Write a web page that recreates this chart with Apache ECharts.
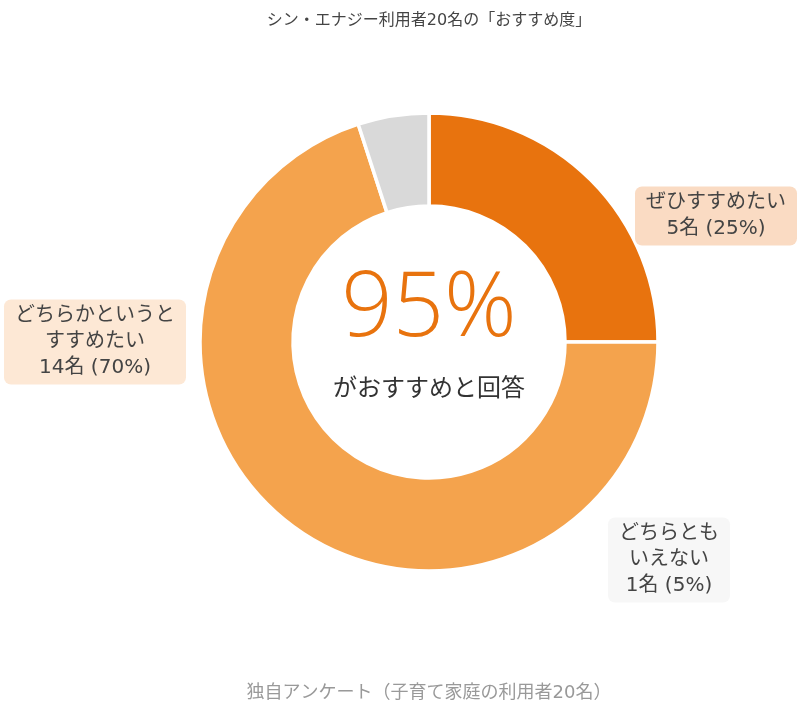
<!DOCTYPE html>
<html>
<head>
<meta charset="utf-8">
<script src="https://cdn.jsdelivr.net/npm/echarts@6/dist/echarts.min.js"></script>
<style>
  html, body { margin: 0; padding: 0; background: #fff; }
  #chart { width: 800px; height: 714px; }
</style>
</head>
<body>
<div id="chart"></div>
<script>
// データ
var categories = ['ぜひすすめたい', 'どちらかというと\nすすめたい', 'どちらとも\nいえない'];
var counts = [5, 14, 1];
var sliceColors = ['#E8730E', '#F4A34D', '#D9D9D9'];
var labelBgs = ['#FADBC3', '#FDE8D5', '#F7F7F7'];
var centerValue = '95%';
var centerNote = 'がおすすめと回答';

// ラベルの中心位置
var labelPos = [[716, 216], [95, 342], [669, 560]];

var font = '"DejaVu Sans", "Noto Sans CJK JP", sans-serif';

var chart = echarts.init(document.getElementById('chart'));
var option = {
    backgroundColor: '#fff',
    title: [
        {
            text: 'シン・エナジー利用者20名の「おすすめ度」',
            left: 424,
            textAlign: 'center',
            top: 8,
            textStyle: { fontSize: 16, fontWeight: 'normal', color: '#444', fontFamily: font }
        },
        {
            text: '独自アンケート（子育て家庭の利用者20名）',
            left: 424,
            textAlign: 'center',
            top: 679,
            textStyle: { fontSize: 18, fontWeight: 'normal', color: '#999', fontFamily: font }
        }
    ],
    graphic: [
        {
            type: 'text',
            x: 429,
            y: 310,
            style: {
                text: centerValue, fontSize: 90, fontWeight: 300, fill: '#E8730E',
                fontFamily: '"Open Sans", sans-serif', align: 'center', verticalAlign: 'middle'
            }
        },
        {
            type: 'text',
            x: 429,
            y: 390,
            style: {
                text: centerNote, fontSize: 24, fill: '#333', fontFamily: font,
                align: 'center', verticalAlign: 'middle'
            }
        }
    ],
    series: [
        {
            type: 'pie',
            center: [429, 342],
            radius: [136, 229],
            startAngle: 90,
            clockwise: true,
            avoidLabelOverlap: false,
            itemStyle: { borderColor: '#fff', borderWidth: 3.5 },
            labelLine: { show: false },
            label: {
                show: true,
                position: 'outside',
                formatter: '{b}\n{c}名 ({d}%)',
                fontSize: 20,
                lineHeight: 26,
                color: '#444',
                fontFamily: font,
                align: 'center',
                padding: [4, 11, 3, 11],
                borderRadius: 7
            },
            labelLayout: function (p) {
                return {
                    x: labelPos[p.dataIndex][0],
                    y: labelPos[p.dataIndex][1],
                    align: 'center',
                    verticalAlign: 'middle'
                };
            },
            data: categories.map(function (name, i) {
                return {
                    name: name,
                    value: counts[i],
                    itemStyle: { color: sliceColors[i] },
                    label: { backgroundColor: labelBgs[i] }
                };
            })
        }
    ]
};
chart.setOption(option);
</script>
</body>
</html>
